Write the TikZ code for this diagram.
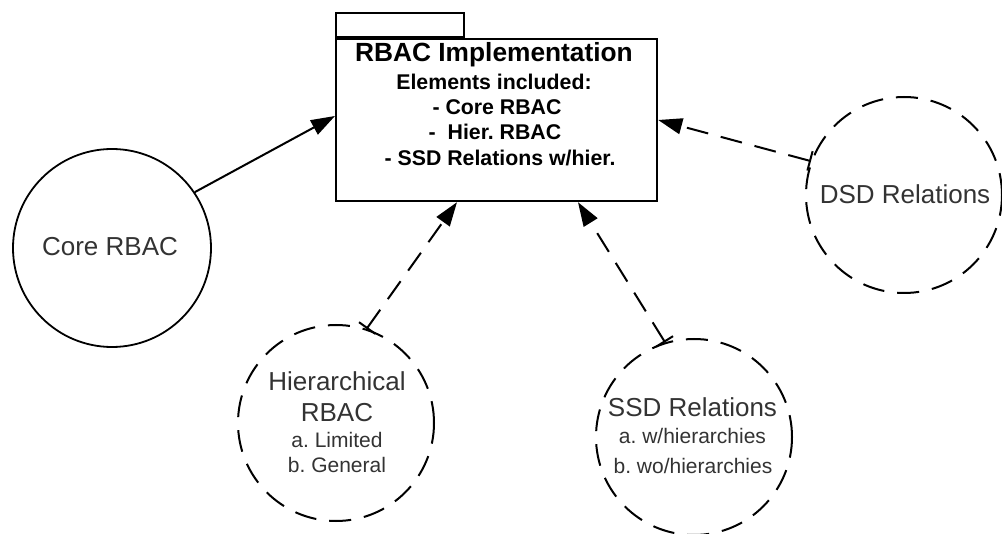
\documentclass[tikz,border=0pt]{standalone}
\usepackage{fontspec}
\setmainfont{Liberation Sans}
\usetikzlibrary{arrows.meta}
\frenchspacing
\begin{document}
\begin{tikzpicture}[x=1pt,y=-1pt,
  pkg/.style={draw, line width=2.2pt, inner sep=0pt, anchor=north west},
  solidcirc/.style={draw, circle, line width=1.8pt, inner sep=0pt},
  dashcirc/.style={draw, circle, line width=2pt, inner sep=0pt, dash pattern=on 22pt off 13pt},
  txtbig/.style={anchor=base, inner sep=0pt, font=\frenchspacing\fontsize{26}{30}\selectfont, text=black!80},
  txtsmall/.style={anchor=base, inner sep=0pt, font=\frenchspacing\fontsize{21}{25}\selectfont, text=black!80},
  boxtitle/.style={anchor=base, inner sep=0pt, font=\frenchspacing\bfseries\fontsize{26.3}{30}\selectfont},
  boxline/.style={anchor=base, inner sep=0pt, font=\frenchspacing\bfseries\fontsize{21.3}{25}\selectfont},
  solidarrow/.style={line width=2pt, -{Triangle[length=24pt,width=16pt]}},
  dasharrow/.style={line width=2pt, dash pattern=on 22pt off 13pt,
     {Bar[width=20pt,line width=2pt,sep=0pt]}-{Triangle[length=24pt,width=16pt]}}
]
\useasboundingbox (0,0) rectangle (1002,534);
% package box
\node[pkg, minimum width=321pt, minimum height=162pt] (box) at (335,38) {};
\node[pkg, anchor=south west, minimum width=128pt, minimum height=24pt] (tab) at (box.north west) {};
\node[boxtitle] (bt1) at (494,62) {RBAC Implementation};
\node[boxline] (bt2) at (494,90) {Elements included:};
\node[boxline] (bt3) at (497,115) {- Core RBAC};
\node[boxline] (bt4) at (495,140) {-\ \ Hier. RBAC};
\node[boxline] (bt5) at (500,166) {- SSD Relations w/hier.};
% circles
\node[solidcirc, minimum size=198pt] (core) at (112,248) {};
\node[txtbig] (coret) at (110,256) {Core RBAC};
\node[dashcirc, minimum size=196pt] (dsd) at (904,195) {};
\node[txtbig] (dsdt) at (905,204) {DSD Relations};
\node[dashcirc, minimum size=196pt] (hier) at (336,423) {};
\node[txtbig] (hiert1) at (337,391) {Hierarchical};
\node[txtbig] (hiert2) at (337,422) {RBAC};
\node[txtsmall] (hiert3) at (337,448) {a. Limited};
\node[txtsmall] (hiert4) at (337,473) {b. General};
\node[dashcirc, minimum size=196pt] (ssd) at (694,437) {};
\node[txtbig] (ssdt1) at (692.5,417) {SSD Relations};
\node[txtsmall] (ssdt2) at (692.5,444) {a. w/hierarchies};
\node[txtsmall] (ssdt3) at (693,474) {b. wo/hierarchies};
% connectors
\draw[solidarrow] (core.34) -- ([yshift=-78pt]box.north west);
\draw[dasharrow] (dsd.160) -- ([yshift=-82pt]box.north east);
\draw[dasharrow] (hier.72) -- ([xshift=122pt]box.south west);
\draw[dasharrow] (ssd.107) -- ([xshift=243pt]box.south west);
\end{tikzpicture}
\end{document}
